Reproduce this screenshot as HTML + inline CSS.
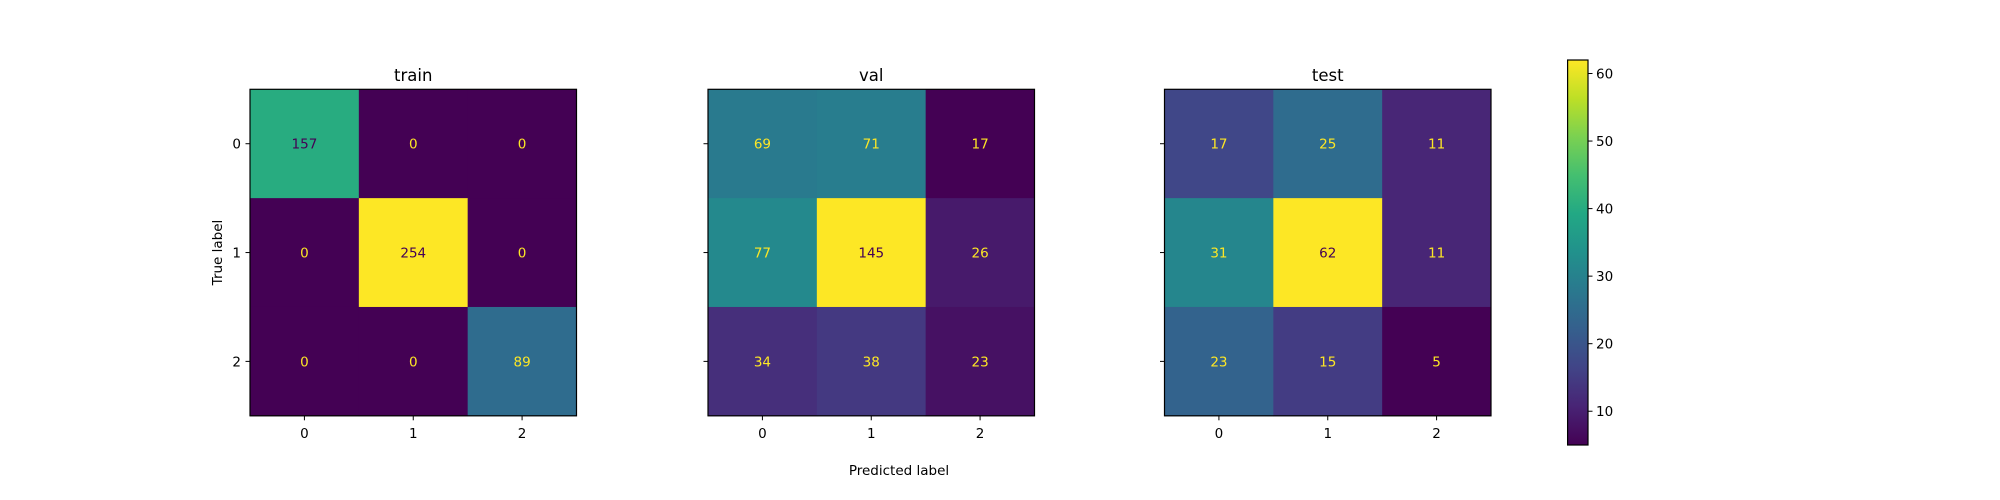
<!DOCTYPE html>
<html><head><meta charset="utf-8"><style>
html,body{margin:0;padding:0;background:#fff;}
svg{display:block;font-family:"DejaVu Sans","Liberation Sans",sans-serif;}
</style></head><body>
<svg id="chart" width="2000" height="500" viewBox="0 0 2000 500" xmlns="http://www.w3.org/2000/svg"></svg>
<script>
const panelTitles = ["train", "val", "test"];
const classLabels = ["0", "1", "2"];
const trainValues = [[157,0,0],[0,254,0],[0,0,89]];
const valValues = [[69,71,17],[77,145,26],[34,38,23]];
const testValues = [[17,25,11],[31,62,11],[23,15,5]];
const colorbarTicks = [10,20,30,40,50,60];

const NS = "http://www.w3.org/2000/svg";
const svg = document.getElementById("chart");
const stops = ["#440154","#482475","#414487","#355f8d","#2a788e","#21918c","#22a884","#44bf70","#7ad151","#bddf26","#fde725"];
function hex(c){return [1,3,5].map(i=>parseInt(c.substr(i,2),16));}
function viridis(t){
  t=Math.max(0,Math.min(1,t));
  const p=t*10, i=Math.min(9,Math.floor(p)), f=p-i;
  const a=hex(stops[i]), b=hex(stops[i+1]);
  return "rgb("+a.map((v,k)=>Math.round(v+(b[k]-v)*f)).join(",")+")";
}
function el(tag, attrs, parent){
  const e=document.createElementNS(NS,tag);
  for(const k in attrs) e.setAttribute(k,attrs[k]);
  (parent||svg).appendChild(e);
  return e;
}
const panels=[trainValues,valValues,testValues];
const lefts=[250,708,1164.5];
const topY=89.3, size=326.5, cell=size/3;
panels.forEach((vals,p)=>{
  const flat=vals.flat(), vmin=Math.min(...flat), vmax=Math.max(...flat);
  const g=el("g",{});
  
  
  const x0=lefts[p];
  const xScale=j=>x0+cell*(j+0.5), yScale=i=>topY+cell*(i+0.5);
  vals.forEach((row,i)=>row.forEach((v,j)=>{
    const t=(v-vmin)/(vmax-vmin);
    const r=el("rect",{x:xScale(j)-cell/2,y:yScale(i)-cell/2,width:cell+0.5,height:cell+0.5,fill:viridis(t)},g);
    
    
    const tx=el("text",{x:xScale(j),y:yScale(i)+5,"text-anchor":"middle","font-size":"13.5",fill:t>0.5?"#440154":"#fde725"},g);
    tx.textContent=v;
    
    
  }));
  el("rect",{x:x0,y:topY,width:size,height:size,fill:"none",stroke:"#000","stroke-width":1.2},g);
  const tt=el("text",{x:x0+size/2,y:81,"text-anchor":"middle","font-size":"16.5"},g);
  tt.textContent=panelTitles[p];
  
  
  classLabels.forEach((lab,k)=>{
    el("line",{x1:xScale(k),x2:xScale(k),y1:topY+size,y2:topY+size+4.5,stroke:"#000","stroke-width":1},g);
    const xl=el("text",{x:xScale(k),y:topY+size+22,"text-anchor":"middle","font-size":"13.5"},g);
    xl.textContent=lab;
    
    
    el("line",{x1:x0-4.5,x2:x0,y1:yScale(k),y2:yScale(k),stroke:"#000","stroke-width":1},g);
    if(p===0){
      const yl=el("text",{x:x0-9,y:yScale(k)+5,"text-anchor":"end","font-size":"13.5"},g);
      yl.textContent=lab;
      
      
    }
  });
});
const yt=el("text",{x:0,y:0,"text-anchor":"middle","font-size":"13.5",transform:"translate(222,252.5) rotate(-90)"});
yt.textContent="True label";


const xt=el("text",{x:899,y:475,"text-anchor":"middle","font-size":"13.5"});
xt.textContent="Predicted label";



const cbFlat=testValues.flat(), cbMin=Math.min(...cbFlat), cbMax=Math.max(...cbFlat);
const cbX=1567.6, cbW=20.4, cbTop=60, cbBot=445;
const cbScale=v=>cbBot-(v-cbMin)/(cbMax-cbMin)*(cbBot-cbTop);
const defs=el("defs",{});
const grad=el("linearGradient",{id:"vir",x1:0,y1:1,x2:0,y2:0},defs);
stops.forEach((c,i)=>el("stop",{offset:(i/10),"stop-color":c},grad));
const cb=el("rect",{x:cbX,y:cbTop,width:cbW,height:cbBot-cbTop,fill:"url(#vir)",stroke:"#000","stroke-width":1.2});


colorbarTicks.forEach(v=>{
  const y=cbScale(v);
  el("line",{x1:cbX+cbW,x2:cbX+cbW+4.5,y1:y,y2:y,stroke:"#000","stroke-width":1});
  const t=el("text",{x:cbX+cbW+8,y:y+5,"font-size":"13.5"});
  t.textContent=v;
  
  
});
</script>
</body></html>
